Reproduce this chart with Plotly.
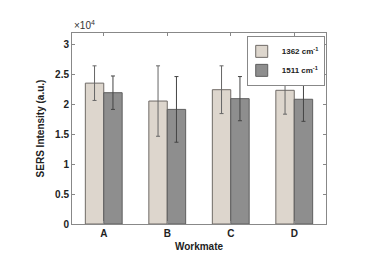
import plotly.graph_objects as go

categories = ["A", "B", "C", "D"]
v1362 = [2.36, 2.06, 2.25, 2.24]
e1362 = [0.29, 0.59, 0.40, 0.40]
v1511 = [2.20, 1.92, 2.10, 2.09]
e1511 = [0.28, 0.55, 0.37, 0.37]
tick_vals = [0, 0.5, 1, 1.5, 2, 2.5, 3]
tick_text = ["0", "0.5", "1", "1.5", "2", "2.5", "3"]

font = dict(family="Liberation Sans, Arial", size=10, color="#222")

fig = go.Figure()
fig.add_trace(go.Bar(
    x=categories, y=v1362, name="<b>1362 cm<sup>-1</sup></b>",
    marker=dict(color="#ddd6cd", line=dict(color="#6f6a66", width=1)),
    error_y=dict(type="data", array=e1362, color="#666", thickness=1, width=2),
))
fig.add_trace(go.Bar(
    x=categories, y=v1511, name="<b>1511 cm<sup>-1</sup></b>",
    marker=dict(color="#8e8e8e", line=dict(color="#5e5e5e", width=1)),
    error_y=dict(type="data", array=e1511, color="#444", thickness=1, width=2),
))

fig.update_layout(
    width=376, height=254,
    margin=dict(l=64, r=58, t=25, b=29),
    paper_bgcolor="white", plot_bgcolor="white",
    barmode="group", bargap=0.42, bargroupgap=0,
    font=font,
    showlegend=True,
    legend=dict(x=0.995, y=0.985, xanchor="right", yanchor="top",
                bgcolor="white", bordercolor="#888", borderwidth=1,
                font=dict(family="Liberation Sans, Arial", size=8, color="#222"),
                itemwidth=30, tracegroupgap=0, indentation=-6),
    xaxis=dict(range=[-0.5, 3.5], tickvals=categories,
               ticktext=["<b>%s</b>" % c for c in categories],
               showline=True, linecolor="#888", mirror="ticks",
               ticks="inside", ticklen=3, tickcolor="#888",
               title=dict(text="<b>Workmate</b>", standoff=4, font=dict(size=10))),
    yaxis=dict(range=[0, 3.2], tickvals=tick_vals,
               ticktext=["<b>%s</b>" % t for t in tick_text],
               showline=True, linecolor="#888", mirror="ticks",
               ticks="inside", ticklen=3, tickcolor="#888", showgrid=False,
               zeroline=False,
               title=dict(text="<b>SERS Intensity (a.u.)</b>", standoff=8, font=dict(size=10))),
    annotations=[dict(text="×10<sup>4</sup>", x=0, y=1, xref="paper", yref="paper",
                      xanchor="left", yanchor="bottom", showarrow=False,
                      font=dict(size=10, color="#333"))],
)

fig.write_html("out.html")
